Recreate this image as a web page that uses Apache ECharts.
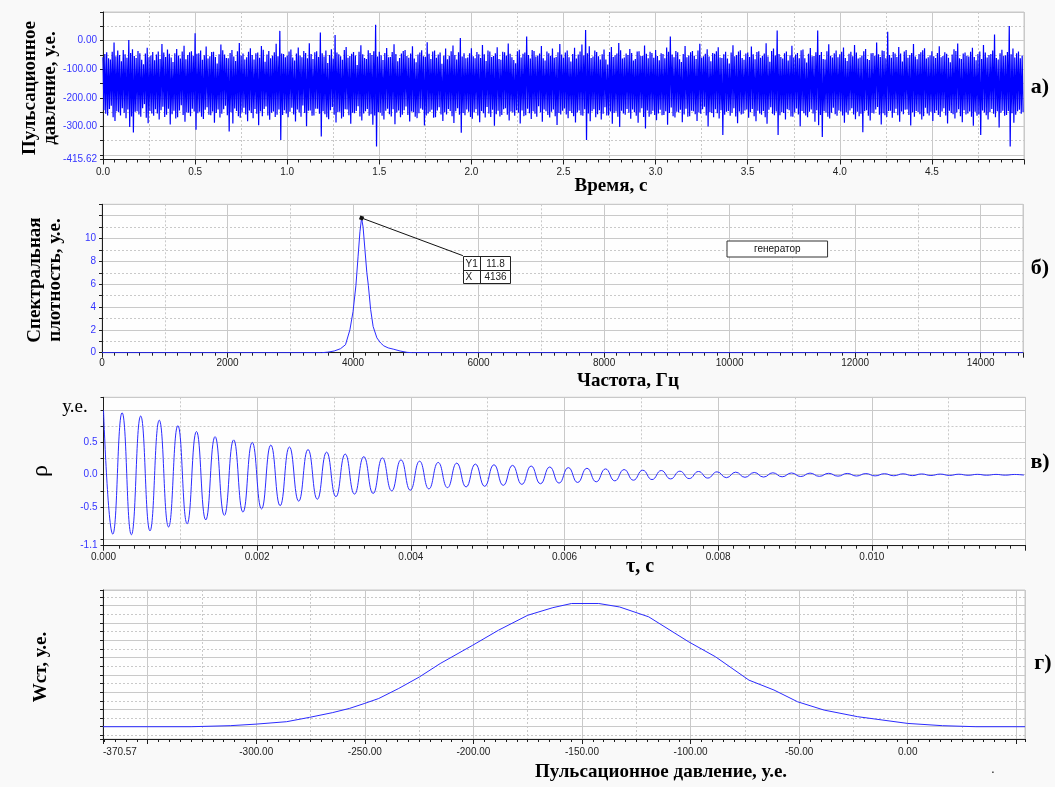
<!DOCTYPE html>
<html>
<head>
<meta charset="utf-8">
<script src="https://cdn.jsdelivr.net/npm/echarts@6/dist/echarts.min.js"></script>
<style>
  html, body { margin: 0; padding: 0; background: #f9f9f9; }
  #chart { width: 1055px; height: 787px; }
</style>
</head>
<body>
<div id="chart"></div>
<script>
// ---------- а) pulsation pressure record: per-column extremes, 0.01 s apart ----------
const timeStep = 0.01;
const pressureHigh = [
  -58, -47, -41, -62, -66, -39, -7, -55, -35, -50, -72, -33, -48, -60, 2, -43, -30, -54, -61, -36, -44, -67, -83, -45, -25, -58, -52, -40, -69, -49, -38, -64, -12, -42, -57, -31, -46, -59, -75, -44, -29, -52, -63, -38, -18, -65, -50, -41, -37, -53,
  26, -46, -44, -35, -67, -51, -21, -63, -55, -40, -39, -57, -80, -48, -14, -34, -49, -61, -62, -43, -33, -56, -71, -37, -8, -52, -45, -66, -58, -39, -27, -50, -66, -44, -42, -60, -19, -32, -74, -49, -36, -62, -53, -41, -11, -55, 34, -45, -47, -58,
  -52, -38, -31, -59, -70, -45, -24, -53, -58, -36, -43, -62, -9, -47, -64, -41, -37, -57, 28, -44, -56, -35, -78, -50, -30, -63, 20, -42, -48, -55, -67, -33, -22, -60, -54, -46, -40, -52, -85, -39, -16, -48, -61, -64, -34, -43, -50, -37, 55, -56,
  -39, -51, -68, -43, -26, -58, -57, -40, -13, -47, -72, -61, -45, -36, -33, -54, -60, -45, -20, -63, -76, -49, -42, -34, -55, -57, -6, -46, -64, -38, -35, -60, -49, -42, -81, -53, -28, -65, -53, -37, -17, -50, -66, -41, 9, -56, -44, -62, -59, -44,
  -27, -55, -62, -40, -48, -61, -15, -48, -71, -35, -38, -57, -54, -44, -23, -64, -67, -39, -41, -52, -10, -46, -58, -68, -79, -37, -32, -59, -46, -42, 14, -50, -63, -33, -36, -56, -52, -45, -19, -62, -70, -38, -44, -53, -28, -60, -57, -41, -12, -49,
  -60, -42, -35, -58, -73, -47, -25, -63, -49, -38, -14, -52, 37, -44, -20, -61, -56, -35, -40, -55, -66, -48, -31, -66, -84, -40, -22, -57, -51, -45, -8, -34, -63, -59, -45, -50, -29, -43, -70, -64, -38, -37, -54, -53, -17, -46, -62, -39, -43, -60,
  -33, -54, -69, -44, -47, -62, -24, -39, 14, -49, -58, -36, -41, -65, -75, -47, -19, -58, -52, -41, -36, -53, -64, -35, -11, -60, -55, -46, -30, -56, -72, -43, -46, -37, -23, -59, -61, -48, -39, -63, -80, -42, -16, -55, -50, -38, -34, -61, -67, -45,
  -42, -57, -21, -48, -65, -40, -37, -60, -53, -45, -9, -56, -74, -36, -28, -52, 35, -47, -57, -63, -44, -38, -70, -51, -18, -59, -49, -43, -62, -34, -31, -62, -77, -46, -26, -55, -54, -41, 35, -50, -40, -64, -66, -37, -13, -53, -59, -44, -35, -58,
  -48, -39, -24, -61, -71, -46, -39, -55, -15, -42, -63, -59, -52, -37, -29, -64, -68, -44, -43, -53, -7, -48, -57, -35, -36, -62, 31, -50, -60, -40, -45, -57, -22, -45, -73, -38, -33, -60, -50, -43, -12, -56, -65, -47, -41, -34, -27, -63, -58, -51,
  -37, -55, -61, -43, -20, -58, -54, -41, -46, -60, -76, -49, -30, -36, -10, -62, -64, -45, -42, -53, -56, -39, -25, -57, -69, -47, -38, -64, -15, -42, -59, -50, -47, -35, 21, -61, -66, -44, -32, -54, -51, -40, 51, -48, -28, -59, -44, -38, -62, -52
];
const pressureLow = [
  -243, -256, -262, -239, -228, -268, -281, -247, -250, -262, -236, -252, -271, -241, -302, -265, -321, -249, -247, -258, -266, -236, -222, -270, -289, -246, -255, -263, -240, -255, -276, -243, -231, -267, -259, -238, -293, -257, -245, -272, -268, -244, -226, -260, -284, -251, -252, -264, -238, -248,
  -312, -254, -249, -266, -274, -242, -233, -259, -261, -248, -287, -253, -241, -269, -256, -240, -228, -261, -318, -250, -290, -237, -246, -264, -270, -251, -235, -258, -282, -244, -253, -271, -239, -256, -296, -247, -264, -239, -230, -262, -277, -252, -248, -267, -259, -241, -347, -260, -243, -255,
  -268, -249, -235, -258, -283, -241, -251, -266, -227, -253, -299, -245, -244, -263, -262, -238, -238, -256, -335, -247, -257, -268, -275, -243, -232, -259, -286, -250, -249, -272, -266, -240, -241, -261, -291, -252, -254, -246, -229, -265, -279, -255, -247, -239, -263, -257, -294, -262, -370, -250,
  -252, -263, -276, -245, -238, -257, -265, -240, -292, -251, -244, -268, -259, -243, -230, -260, -283, -248, -250, -266, -271, -254, -237, -242, -297, -262, -255, -249, -242, -270, -268, -244, -233, -258, -281, -250, -258, -239, -246, -264, -288, -247, -236, -259, -322, -253, -261, -241, -249, -267,
  -273, -251, -240, -262, -285, -246, -254, -269, -232, -255, -267, -242, -298, -257, -245, -265, -260, -240, -236, -259, -279, -248, -251, -263, -243, -252, -290, -244, -264, -261, -238, -254, -274, -247, -256, -266, -229, -250, -284, -241, -247, -260, -269, -249, -241, -264, -295, -253, -258, -245,
  -237, -258, -271, -246, -253, -264, -286, -251, -244, -261, -263, -240, -347, -255, -282, -247, -240, -268, -257, -243, -276, -256, -233, -262, -262, -248, -291, -253, -248, -266, -302, -245, -255, -259, -239, -252, -273, -241, -250, -263, -287, -250, -236, -267, -307, -244, -266, -257, -245, -260,
  -278, -255, -242, -261, -260, -247, -294, -253, -234, -264, -269, -249, -251, -242, -285, -258, -238, -266, -264, -245, -247, -257, -281, -251, -256, -240, -231, -262, -300, -250, -253, -268, -240, -254, -272, -243, -330, -259, -249, -246, -263, -252, -236, -265, -289, -248, -258, -256, -244, -241,
  -270, -250, -239, -264, -282, -245, -255, -259, -246, -268, -291, -242, -233, -256, -261, -248, -330, -261, -250, -253, -276, -240, -243, -265, -266, -251, -237, -258, -299, -246, -254, -262, -268, -249, -241, -255, -284, -243, -296, -260, -337, -247, -252, -266, -272, -252, -235, -257, -263, -244,
  -248, -262, -287, -251, -259, -244, -236, -258, -275, -249, -264, -256, -320, -247, -243, -263, -279, -252, -255, -241, -232, -259, -293, -254, -261, -267, -246, -245, -270, -253, -238, -261, -284, -248, -257, -242, -241, -260, -297, -250, -266, -246, -250, -257, -276, -264, -235, -255, -262, -249,
  -281, -253, -244, -260, -267, -248, -236, -262, -290, -245, -253, -257, -272, -251, -240, -264, -285, -243, -258, -255, -248, -266, -298, -249, -263, -258, -330, -244, -251, -261, -276, -250, -239, -256, -268, -247, -304, -252, -245, -263, -260, -246, -370, -254, -287, -259, -247, -242, -256, -250
];

// ---------- б) spectral density ----------
const spectrumFreq  = [0, 3500, 3600, 3700, 3800, 3880, 3950, 4000, 4046, 4080, 4110, 4136, 4160, 4190, 4220, 4244, 4280, 4320, 4380, 4440, 4490, 4560, 4650, 4750, 4860, 4950, 14675];
const spectrumValue = [0, 0, 0.05, 0.15, 0.35, 0.7, 2.0, 3.6, 5.9, 8.4, 10.6, 11.8, 11.0, 9.0, 7.0, 5.9, 3.8, 2.3, 1.3, 0.85, 0.6, 0.42, 0.3, 0.15, 0.03, 0, 0];
const calloutAnchor = [5750, 8.5];   // where the value table is pinned, in axis units

// ---------- в) autocorrelation: successive maxima and minima ----------
const tauHalfStep = 0.000121;
const rhoPeaks = [
  1.0, 0.96, 0.91, 0.845, 0.76, 0.67, 0.59, 0.54, 0.50, 0.46,
  0.43, 0.39, 0.35, 0.32, 0.28, 0.26, 0.23, 0.21, 0.19, 0.18,
  0.165, 0.155, 0.145, 0.135, 0.12, 0.11, 0.10, 0.09, 0.08, 0.07,
  0.065, 0.055, 0.05, 0.045, 0.04, 0.035, 0.03, 0.027, 0.025, 0.022,
  0.02, 0.018, 0.016, 0.014, 0.012, 0.01, 0.008, 0.006, 0.005, 0.004
];
const rhoTroughs = [
  -0.92, -0.93, -0.87, -0.81, -0.76, -0.70, -0.63, -0.58, -0.53, -0.48,
  -0.41, -0.38, -0.34, -0.30, -0.29, -0.25, -0.24, -0.22, -0.20, -0.19,
  -0.18, -0.165, -0.15, -0.14, -0.13, -0.12, -0.11, -0.095, -0.085, -0.075,
  -0.065, -0.06, -0.052, -0.046, -0.04, -0.036, -0.032, -0.028, -0.025, -0.022,
  -0.02, -0.018, -0.016, -0.014, -0.012, -0.011, -0.009, -0.008, -0.007, -0.006
];

// ---------- г) probability density of the pressure ----------
const pdfPressure = [-370.57, -330, -312, -300, -286, -275.5, -265, -257, -250, -243.6, -234.4, -224.8, -215.3, -200.3, -188.4, -175, -163.4, -154.8, -142.3, -132.7, -119.3, -100.8, -88.5, -73.1, -61.6, -50.7, -38.5, -23.1, 0, 16, 31.4, 54];
const pdfDensity  = [0, 0, 0.06, 0.15, 0.29, 0.54, 0.81, 1.06, 1.35, 1.63, 2.21, 2.88, 3.65, 4.71, 5.58, 6.44, 6.88, 7.12, 7.12, 6.92, 6.35, 4.9, 4.04, 2.69, 2.12, 1.44, 0.96, 0.58, 0.19, 0.06, 0, 0];

// ---------- series data ----------
// each column is drawn as a stroke from its upper extreme down to its lower one
const pulseData = [];
const nColumns = Math.min(pressureHigh.length, pressureLow.length);
for (let i = 0; i < nColumns; i++) {
  const t = i * timeStep;
  pulseData.push([t, pressureHigh[i]], [t + timeStep / 2, pressureLow[i]]);
}
const spectrumData = spectrumFreq.map((f, i) => [f, spectrumValue[i]]);
const peakIndex = spectrumValue.indexOf(Math.max(...spectrumValue));
const peakFreq = spectrumFreq[peakIndex];
const peakValue = spectrumValue[peakIndex];
const rhoData = [];
rhoPeaks.forEach((p, k) => {
  rhoData.push([2 * k * tauHalfStep, p], [(2 * k + 1) * tauHalfStep, rhoTroughs[k]]);
});
const pdfData = pdfPressure.map((p, i) => [p, pdfDensity[i]]);

// ---------- styling ----------
const SANS = '"Liberation Sans", Arial, sans-serif';
const SERIF = '"Liberation Serif", "Times New Roman", serif';
const AXIS = '#1e1e1e';
const GRIDLINE = '#c9c9c9';
const TICK_BLUE = '#3434ff';
const LINE_BLUE = '#2b2bff';

const solidSplit = { show: true, lineStyle: { color: GRIDLINE, width: 1 } };

function mainAxis(dim, gridIndex, o) {
  const base = {
    type: 'value', gridIndex,
    position: dim === 'x' ? 'bottom' : 'left',
    axisLine: { show: true, onZero: false, lineStyle: { color: AXIS, width: 1 } },
    axisTick: { show: true, length: 5, lineStyle: { color: AXIS } },
    splitLine: solidSplit,
    axisLabel: { fontFamily: SANS, fontSize: 10, color: dim === 'x' ? '#222' : TICK_BLUE, margin: dim === 'x' ? 8 : 6 }
  };
  const ax = Object.assign({}, base, o);
  ax.axisLabel = Object.assign({}, base.axisLabel, o.axisLabel || {});
  if (o.axisTick) ax.axisTick = Object.assign({}, base.axisTick, o.axisTick);
  return ax;
}

// Helper axis counted in units of `step`, so its ticks fall on every multiple of step;
// used for the dotted grid and for short ticks.
function stepAxis(dim, gridIndex, min, max, step, o) {
  const a = min / step, b = max / step;
  return {
    type: 'value', gridIndex,
    position: dim === 'x' ? 'bottom' : 'left',
    min: a, max: b, splitNumber: Math.round(b - a),
    silent: true,
    axisLine: { show: false, onZero: false },
    axisLabel: { show: false },
    axisTick: { show: !!o.tick, length: o.tick || 0, lineStyle: { color: AXIS } },
    splitLine: { show: !!o.dotted, lineStyle: { color: GRIDLINE, width: 1, type: [2, 2] } }
  };
}

const chart = echarts.init(document.getElementById('chart'), null, { renderer: 'canvas' });

const gridBox = { show: true, backgroundColor: '#fefefe', borderColor: '#c8c8c8', borderWidth: 1, containLabel: false };

const option = {
  animation: false,
  backgroundColor: '#f9f9f9',
  textStyle: { fontFamily: SANS },
  grid: [
    Object.assign({ left: 103, top: 12, width: 921, height: 147.5 }, gridBox),
    Object.assign({ left: 102, top: 204.3, width: 921, height: 148.4 }, gridBox),
    Object.assign({ left: 103.5, top: 397.3, width: 922, height: 148.4 }, gridBox),
    Object.assign({ left: 103, top: 590, width: 922, height: 149 }, gridBox)
  ],
  legend: {
    show: true,
    left: 727, top: 241,
    selectedMode: false,
    data: [{ name: 'генератор', icon: 'none' }],
    itemWidth: 0, itemHeight: 0,
    padding: [3, 27, 3, 22],
    backgroundColor: '#ffffff',
    borderColor: '#333', borderWidth: 1,
    textStyle: { fontFamily: SANS, fontSize: 10, color: '#111' }
  },
  xAxis: [
    // а) time
    mainAxis('x', 0, {
      min: 0, max: 5, interval: 0.5,
      minorTick: { show: true, splitNumber: 8, length: 3, lineStyle: { color: AXIS } },
      axisLabel: { showMaxLabel: false, formatter: v => v.toFixed(1) }
    }),
    stepAxis('x', 0, 0, 5, 0.25, { dotted: true }),
    // б) frequency
    mainAxis('x', 1, {
      min: 0, max: 14675, interval: 2000,
      minorTick: { show: true, splitNumber: 10, length: 3, lineStyle: { color: AXIS } },
      axisLabel: { showMaxLabel: false, formatter: v => String(v), margin: 6 }
    }),
    stepAxis('x', 1, 0, 14675, 1000, { dotted: true }),
    // в) lag
    mainAxis('x', 2, {
      min: 0, max: 0.012, interval: 0.002,
      minorTick: { show: true, splitNumber: 10, length: 3, lineStyle: { color: AXIS } },
      axisLabel: { showMaxLabel: false, formatter: v => v.toFixed(3), margin: 7 }
    }),
    stepAxis('x', 2, 0, 0.012, 0.001, { dotted: true }),
    // г) pressure
    mainAxis('x', 3, {
      min: -370.57, max: 54, splitNumber: 8,
      axisLabel: {
        showMinLabel: true, showMaxLabel: false, alignMinLabel: 'left',
        formatter: v => (v === -350 || v === 50) ? '' : v.toFixed(2)
      }
    }),
    stepAxis('x', 3, -370.57, 54, 25, { dotted: true }),
    stepAxis('x', 3, -370.57, 54, 5, { tick: 3 })
  ],
  yAxis: [
    // а)
    mainAxis('y', 0, {
      min: -415.62, max: 100, splitNumber: 5,
      axisTick: { show: false },
      axisLabel: { showMinLabel: true, showMaxLabel: false, formatter: v => (v === -400 ? '' : v.toFixed(2)) }
    }),
    stepAxis('y', 0, -415.62, 100, 50, { dotted: true, tick: 3 }),
    // б)
    mainAxis('y', 1, {
      min: 0, max: 13, interval: 2,
      axisTick: { show: false },
      axisLabel: { showMaxLabel: false, formatter: v => (v <= 10 ? String(v) : '') }
    }),
    stepAxis('y', 1, 0, 13, 1, { dotted: true, tick: 3 }),
    // в)
    mainAxis('y', 2, {
      min: -1.1, max: 1.2, splitNumber: 5,
      axisTick: { show: false },
      axisLabel: {
        showMinLabel: true, showMaxLabel: false,
        formatter: v => (Math.abs(v) === 1 || v === 1.2) ? '' : v.toFixed(1)
      }
    }),
    stepAxis('y', 2, -1.1, 1.2, 0.25, { dotted: true, tick: 3 }),
    // г)
    mainAxis('y', 3, {
      min: -0.71, max: 7.9, splitNumber: 9,
      axisTick: { show: false },
      axisLabel: { show: false }
    }),
    stepAxis('y', 3, -0.71, 7.9, 0.5, { dotted: true, tick: 3 })
  ],
  series: [
    {
      type: 'line', name: 'pulse', xAxisIndex: 0, yAxisIndex: 0,
      data: pulseData, symbol: 'none', silent: true, z: 3, sampling: null,
      lineStyle: { color: '#0000ff', width: 1.2 }
    },
    {
      type: 'line', name: 'генератор', xAxisIndex: 2, yAxisIndex: 2,
      data: spectrumData, symbol: 'none', silent: true, z: 3,
      itemStyle: { color: LINE_BLUE },
      lineStyle: { color: LINE_BLUE, width: 1 },
      markLine: {
        silent: true, z: 6,
        label: { show: false },
        lineStyle: { color: '#111', width: 1, type: 'solid' },
        itemStyle: { color: '#111' },
        data: [[
          { coord: [peakFreq, peakValue], symbol: 'rect', symbolSize: 4 },
          { coord: calloutAnchor, symbol: 'none' }
        ]]
      }
    },
    {
      type: 'line', name: 'rho', xAxisIndex: 4, yAxisIndex: 4,
      data: rhoData, symbol: 'none', silent: true, z: 3, smooth: 0.5,
      lineStyle: { color: LINE_BLUE, width: 1 }
    },
    {
      type: 'line', name: 'pdf', xAxisIndex: 6, yAxisIndex: 6,
      data: pdfData, symbol: 'none', silent: true, z: 3,
      lineStyle: { color: LINE_BLUE, width: 1 }
    }
  ]
};

chart.setOption(option);

// ---------- axis titles, panel letters and the value table ----------
function label(text, x, y, font, extra) {
  return Object.assign({
    type: 'text', x, y, silent: true,
    style: {
      text, font, fill: '#000',
      textAlign: 'center', textVerticalAlign: 'middle',
      align: 'center', verticalAlign: 'middle'
    }
  }, extra || {});
}
function boldSerif(size) { return 'bold ' + size + 'px ' + SERIF; }
const UP = { rotation: Math.PI / 2 };

const graphics = [
  label('Пульсационное\nдавление, у.е.', 40, 88, boldSerif(19), UP),
  label('Время, с', 611, 186, boldSerif(19)),
  label('Спектральная\nплотность, у.е.', 45, 280, boldSerif(19), UP),
  label('Частота, Гц', 628, 381, boldSerif(19)),
  label('ρ', 41, 471, '24px ' + SERIF, UP),
  label('у.е.', 75, 407, '19px ' + SERIF),
  label('τ, с', 640, 567, boldSerif(20)),
  label('Wст, у.е.', 41, 667, boldSerif(19), UP),
  label('Пульсационное давление, у.е.', 661, 772, boldSerif(19)),
  label('а)', 1040, 87, boldSerif(22)),
  label('б)', 1040, 268, boldSerif(22)),
  label('в)', 1040, 462, boldSerif(22)),
  label('г)', 1043, 663, boldSerif(22)),
  label('.', 993, 770, '12px ' + SANS)
];
graphics.forEach(g => { g.style.lineHeight = 20; });

// value table pinned at the end of the leader line
const anchorPx = chart.convertToPixel({ xAxisIndex: 2, yAxisIndex: 2 }, calloutAnchor);
const bx = Math.round(anchorPx[0]) + 0.5, by = Math.round(anchorPx[1]) + 0.5;
const cellFont = '10px ' + SANS;
const cell = (text, x, y, align) => ({
  type: 'text', x, y, silent: true,
  style: { text, font: cellFont, fill: '#222', textAlign: align, align, textVerticalAlign: 'middle', verticalAlign: 'middle' }
});
graphics.push({
  type: 'group', x: bx, y: by, silent: true, z: 100,
  children: [
    { type: 'rect', shape: { x: 0, y: 0, width: 47, height: 27 }, style: { fill: '#ffffff', stroke: '#222', lineWidth: 1 } },
    { type: 'line', shape: { x1: 17, y1: 0, x2: 17, y2: 27 }, style: { stroke: '#222', lineWidth: 1 } },
    { type: 'line', shape: { x1: 0, y1: 14, x2: 47, y2: 14 }, style: { stroke: '#222', lineWidth: 1 } },
    cell('Y1', 2, 7.5, 'left'),
    cell(String(peakValue), 32, 7.5, 'center'),
    cell('X', 2, 21, 'left'),
    cell(String(peakFreq), 32, 21, 'center')
  ]
});

chart.setOption({ graphic: graphics });
</script>
</body>
</html>
